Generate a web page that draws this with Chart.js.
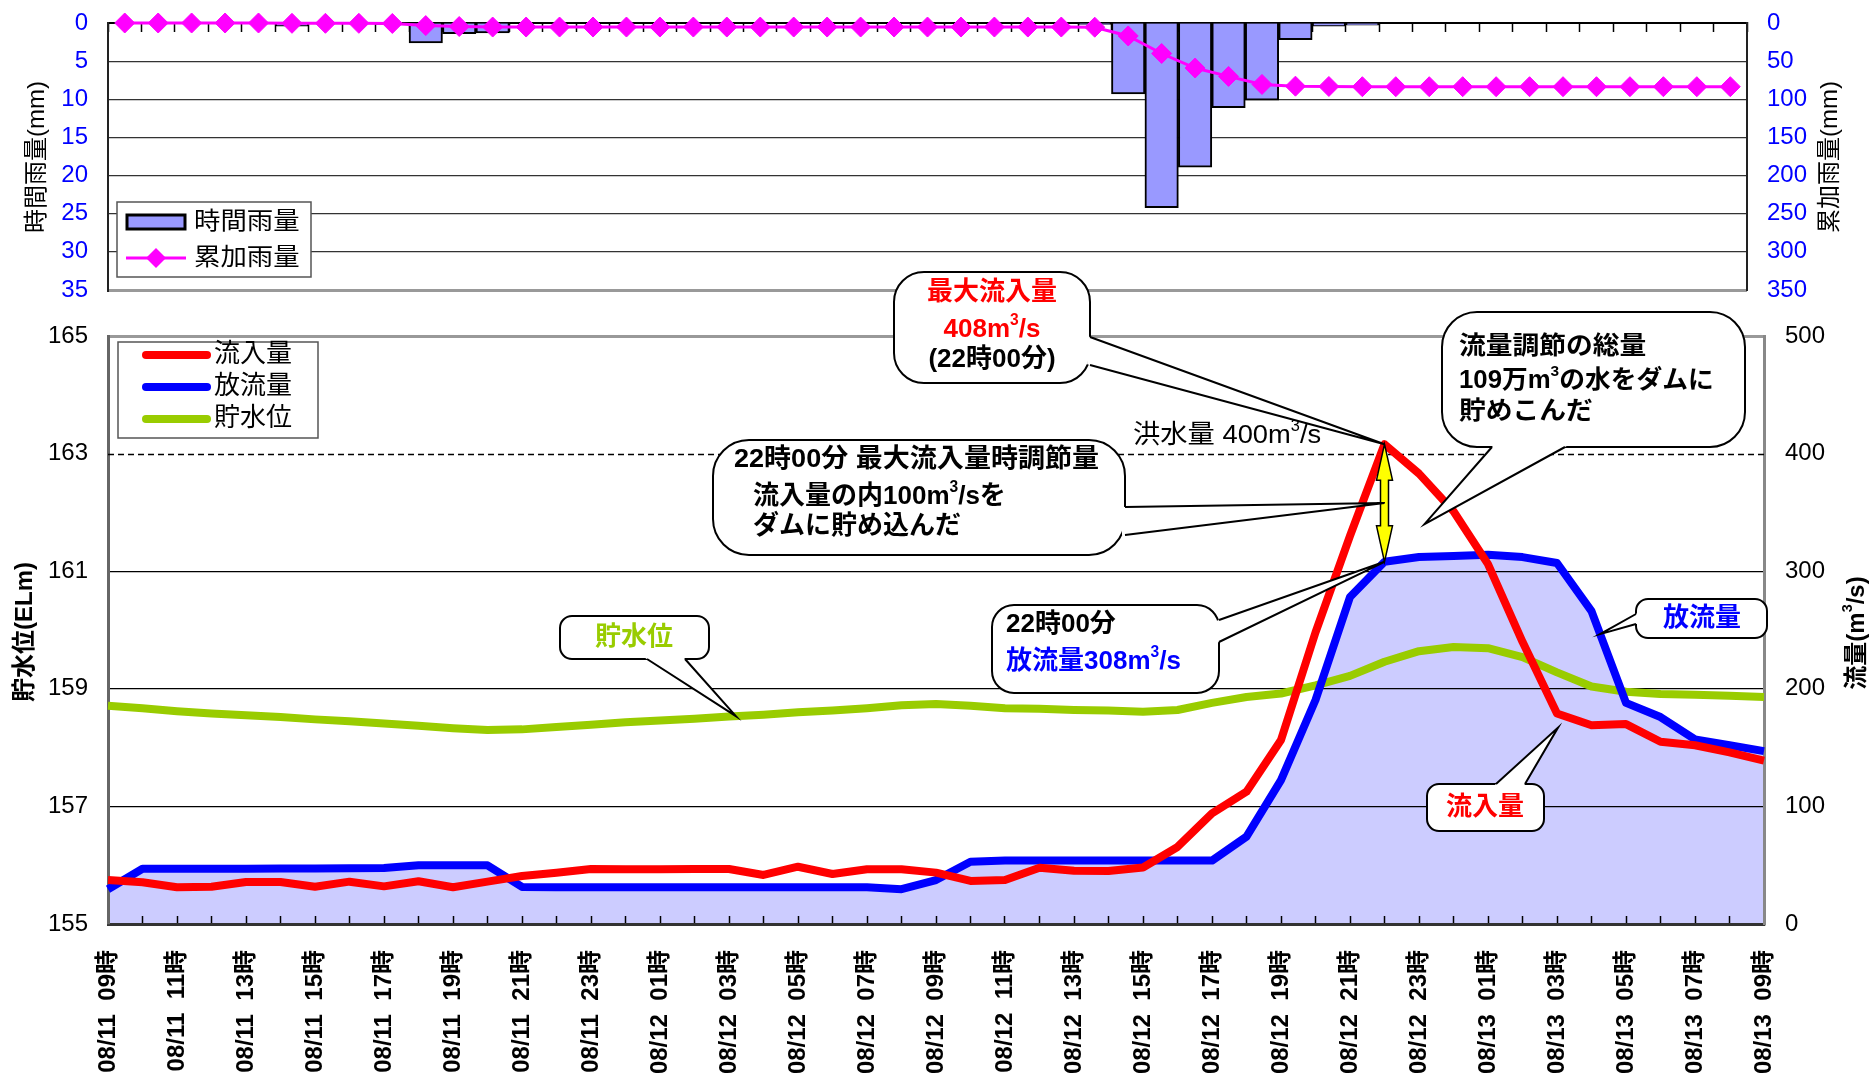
<!DOCTYPE html>
<html lang="ja">
<head>
<meta charset="utf-8">
<title>流入量・放流量・貯水位</title>
<script src="https://cdn.jsdelivr.net/npm/chart.js@4.4.0/dist/chart.umd.min.js"></script>
<style>
  html, body { margin: 0; padding: 0; background: #fff; }
  #wrap { position: relative; width: 1874px; height: 1080px; overflow: hidden; }
  canvas { position: absolute; left: 0; }
  #rain { top: 0; }
  #flow { top: 250px; }
</style>
</head>
<body>
<div id="wrap">
  <canvas id="rain" width="1874" height="310"></canvas>
  <canvas id="flow" width="1874" height="830"></canvas>
</div>
<script>
// hourly categories, 08/11 09時 .. 08/13 09時
const hours = [
  '08/11  09時', '08/11  10時', '08/11  11時', '08/11  12時', '08/11  13時', '08/11  14時', '08/11  15時',
  '08/11  16時', '08/11  17時', '08/11  18時', '08/11  19時', '08/11  20時', '08/11  21時', '08/11  22時',
  '08/11  23時', '08/12  00時', '08/12  01時', '08/12  02時', '08/12  03時', '08/12  04時', '08/12  05時',
  '08/12  06時', '08/12  07時', '08/12  08時', '08/12  09時', '08/12  10時', '08/12  11時', '08/12  12時',
  '08/12  13時', '08/12  14時', '08/12  15時', '08/12  16時', '08/12  17時', '08/12  18時', '08/12  19時',
  '08/12  20時', '08/12  21時', '08/12  22時', '08/12  23時', '08/13  00時', '08/13  01時', '08/13  02時',
  '08/13  03時', '08/13  04時', '08/13  05時', '08/13  06時', '08/13  07時', '08/13  08時', '08/13  09時'
];

// 時間雨量 (mm)
const rainHourly = [0, 0, 0, 0, 0, 0.4, 0, 0, 0.2, 2.6, 1.4, 1.3,
  0, 0, 0, 0, 0, 0, 0, 0, 0, 0, 0, 0, 0, 0, 0, 0, 0,
  0.2, 9.3, 24.2, 18.9, 11.1, 10.1, 2.2, 0.4, 0.3,
  0, 0, 0, 0, 0, 0, 0, 0, 0, 0, 0];

// 累加雨量 (mm)
const rainTotal = [0, 0, 0, 0, 0, 0.4, 0.4, 0.4, 0.6, 3.4, 4.6, 5.3,
  5.3, 5.3, 5.3, 5.3, 5.3, 5.3, 5.3, 5.3, 5.3, 5.3, 5.3, 5.3, 5.3, 5.3, 5.3, 5.3, 5.3,
  5.5, 17, 40, 59, 70, 80.5, 82.8, 83.2, 83.5,
  83.5, 83.5, 83.5, 83.5, 83.5, 83.5, 83.5, 83.5, 83.5, 83.5, 83.5];

// 流入量 (m3/s)
const inflow = [37.4, 35.5, 31.2, 31.7, 35.7, 35.7, 31.7, 36, 32, 36.3, 31.2, 36,
  40.8, 43.6, 46.8, 46.5, 46.5, 46.8, 46.8, 41.7, 48.7, 42.5, 46.5, 46.5,
  43.7, 36.6, 37.4, 47.9, 45.2, 45, 48, 65.5, 94, 112.5, 156.5, 248,
  330, 408, 383, 351, 306, 240, 179, 169, 170, 155, 152, 146, 139];

// 放流量 (m3/s)
const outflow = [29.5, 47, 47, 47, 47, 47.2, 47.2, 47.5, 47.6, 49.9, 50, 49.9,
  31.5, 31.3, 31.3, 31.3, 31.3, 31.3, 31.3, 31.3, 31.3, 31.3, 31.2, 29.6,
  37.4, 53, 53.9, 53.9, 53.9, 53.9, 53.9, 53.9, 53.9, 74.3, 122.4, 190.5,
  278, 308, 312, 313, 314, 312, 307, 266, 188, 176, 157, 152, 147];

// 貯水位 (ELm)
const level = [158.71, 158.67, 158.62, 158.58, 158.55, 158.52, 158.48, 158.45, 158.41, 158.37, 158.33, 158.30,
  158.31, 158.35, 158.39, 158.43, 158.46, 158.49, 158.53, 158.56, 158.60, 158.63, 158.67, 158.72,
  158.74, 158.71, 158.67, 158.66, 158.64, 158.63, 158.61, 158.64, 158.76, 158.86, 158.92, 159.06,
  159.22, 159.46, 159.64, 159.71, 159.69, 159.54, 159.28, 159.04, 158.95, 158.91, 158.90, 158.88, 158.86];

// axis ranges [min, max, step]
const rainAxis = [0, 35, 5];
const totalAxis = [0, 350, 50];
const levelAxis = [155, 165, 2];
const flowAxis = [0, 500, 100];

const FLOOD_Q = 400;   // 洪水量
const PEAK = 37;       // 22時 index

const FONT = "'Liberation Sans', 'Noto Sans CJK JP', sans-serif";
const fnt = (size, bold) => (bold ? 'bold ' : '') + size + 'px ' + FONT;

// parts: [text, color, isSup]
function richText(ctx, parts, x, y, opt) {
  const size = opt.size || 24, bold = !!opt.bold, sx = opt.sx || 1;
  ctx.save();
  ctx.translate(x, y);
  if (opt.rotate) ctx.rotate(opt.rotate);
  ctx.scale(sx, 1);
  ctx.textBaseline = 'middle';
  ctx.textAlign = 'left';
  let w = 0;
  parts.forEach(p => { ctx.font = fnt(p[2] ? size * 0.6 : size, bold); w += ctx.measureText(p[0]).width; });
  let cx = opt.align === 'center' ? -w / 2 : 0;
  parts.forEach(p => {
    ctx.font = fnt(p[2] ? size * 0.6 : size, bold);
    ctx.fillStyle = p[1] || '#000';
    ctx.fillText(p[0], cx, p[2] ? -size * 0.36 : 0);
    cx += ctx.measureText(p[0]).width;
  });
  ctx.restore();
}

function roundRectPath(ctx, x, y, w, h, r) {
  ctx.beginPath();
  ctx.moveTo(x + r, y);
  ctx.arcTo(x + w, y, x + w, y + h, r);
  ctx.arcTo(x + w, y + h, x, y + h, r);
  ctx.arcTo(x, y + h, x, y, r);
  ctx.arcTo(x, y, x + w, y, r);
  ctx.closePath();
}

// rounded callout with a wedge tail from base points p1,p2 to tip
function bubble(ctx, b, p1, p2, tip) {
  ctx.save();
  ctx.lineWidth = 2;
  ctx.strokeStyle = '#000';
  ctx.fillStyle = '#fff';
  roundRectPath(ctx, b[0], b[1], b[2], b[3], b[4]);
  ctx.fill();
  ctx.stroke();
  const ext = p => {
    const dx = p[0] - tip[0], dy = p[1] - tip[1], d = Math.hypot(dx, dy);
    return [p[0] + dx / d * 3, p[1] + dy / d * 3];
  };
  const q1 = ext(p1), q2 = ext(p2);
  ctx.beginPath();
  ctx.moveTo(q1[0], q1[1]); ctx.lineTo(tip[0], tip[1]); ctx.lineTo(q2[0], q2[1]);
  ctx.closePath();
  ctx.fill();
  ctx.beginPath();
  ctx.moveTo(p1[0], p1[1]); ctx.lineTo(tip[0], tip[1]); ctx.lineTo(p2[0], p2[1]);
  ctx.stroke();
  ctx.restore();
}

function valAt(arr, t) {
  const i = Math.floor(t), f = t - i;
  return arr[i] + (arr[Math.min(i + 1, arr.length - 1)] - arr[i]) * f;
}

// ---------- 雨量 chart ----------
const rainNotes = {
  id: 'rainNotes',
  afterDraw(chart) {
    const ctx = chart.ctx;
    const ds = chart.data.datasets;
    richText(ctx, [['時間雨量(mm)']], 37, 157, {size: 24, align: 'center', rotate: -Math.PI / 2});
    richText(ctx, [['累加雨量(mm)']], 1830, 157, {size: 24, align: 'center', rotate: -Math.PI / 2});

    ctx.save();
    ctx.fillStyle = '#fff';
    ctx.strokeStyle = '#555';
    ctx.lineWidth = 1.5;
    ctx.fillRect(117, 202, 194, 75);
    ctx.strokeRect(117, 202, 194, 75);
    ctx.fillStyle = ds[0].backgroundColor;
    ctx.fillRect(127, 215, 58, 14);
    ctx.strokeStyle = '#000';
    ctx.lineWidth = 3;
    ctx.strokeRect(127, 215, 58, 14);
    ctx.strokeStyle = ds[1].borderColor;
    ctx.beginPath(); ctx.moveTo(126, 258); ctx.lineTo(186, 258); ctx.stroke();
    ctx.fillStyle = ds[1].borderColor;
    ctx.beginPath();
    ctx.moveTo(156, 248); ctx.lineTo(166, 258); ctx.lineTo(156, 268); ctx.lineTo(146, 258);
    ctx.closePath(); ctx.fill();
    ctx.restore();
    richText(ctx, [[ds[0].label]], 194, 222, {size: 24, sx: 1.1});
    richText(ctx, [[ds[1].label]], 194, 258, {size: 24, sx: 1.1});
  }
};

new Chart(document.getElementById('rain'), {
  type: 'bar',
  data: {
    labels: hours,
    datasets: [{
      label: '時間雨量',
      data: rainHourly,
      backgroundColor: '#9999FF',
      borderColor: '#000',
      borderWidth: 2,
      barPercentage: 1,
      categoryPercentage: 1,
      yAxisID: 'y',
      order: 2
    }, {
      type: 'line',
      label: '累加雨量',
      data: rainTotal,
      borderColor: '#FF00FF',
      backgroundColor: '#FF00FF',
      borderWidth: 3,
      pointStyle: 'rectRot',
      pointRadius: 10,
      pointBorderWidth: 1,
      pointBorderColor: '#FF00FF',
      clip: false,
      yAxisID: 'y2',
      order: 1
    }]
  },
  options: {
    responsive: false,
    animation: false,
    layout: {padding: {top: 23, bottom: 20, left: 0, right: 0}},
    plugins: {legend: {display: false}, tooltip: {enabled: false}},
    scales: {
      x: {
        position: 'top',
        ticks: {display: false},
        grid: {drawOnChartArea: false, tickLength: -9, tickColor: '#000', tickWidth: 1.5},
        border: {color: '#000', width: 2},
        afterFit: s => { s.height = 0; }
      },
      y: {
        position: 'left',
        reverse: true,
        min: rainAxis[0], max: rainAxis[1],
        ticks: {stepSize: rainAxis[2], color: '#0000FF', padding: 20, font: {family: FONT, size: 24}},
        grid: {
          drawTicks: false,
          color: c => c.tick.value === rainAxis[1] ? '#999' : (c.tick.value === rainAxis[0] ? 'rgba(0,0,0,0)' : '#333'),
          lineWidth: c => c.tick.value === rainAxis[1] ? 3 : 1.2
        },
        border: {color: '#222', width: 2},
        afterFit: s => { s.width = 108; s.paddingTop = 0; s.paddingBottom = 0; }
      },
      y2: {
        position: 'right',
        reverse: true,
        min: totalAxis[0], max: totalAxis[1],
        ticks: {stepSize: totalAxis[2], color: '#0000FF', padding: 20, font: {family: FONT, size: 24}},
        grid: {drawOnChartArea: false, drawTicks: false},
        border: {color: '#222', width: 2},
        afterFit: s => { s.width = 127; s.paddingTop = 0; s.paddingBottom = 0; }
      }
    }
  },
  plugins: [rainNotes]
});

// ---------- 流量 chart ----------
const flowNotes = {
  id: 'flowNotes',
  beforeDatasetsDraw(chart) {
    const {ctx, chartArea: a, scales: {y2}} = chart;
    const yy = Math.round(y2.getPixelForValue(FLOOD_Q)) + 0.5;
    ctx.save();
    ctx.strokeStyle = '#000';
    ctx.lineWidth = 1.5;
    ctx.setLineDash([6, 4]);
    ctx.beginPath(); ctx.moveTo(a.left, yy); ctx.lineTo(a.right, yy); ctx.stroke();
    ctx.restore();
  },
  afterDraw(chart) {
    const {ctx, scales: {x, y, y2}} = chart;
    const ds = chart.data.datasets;
    const px = i => x.getPixelForValue(i);
    const pq = v => y2.getPixelForValue(v);
    const ph = v => y.getPixelForValue(v);

    // axis titles
    richText(ctx, [['貯水位(ELm)']], 25, 382, {size: 24, bold: true, align: 'center', rotate: -Math.PI / 2});
    richText(ctx, [['流量(m'], ['3', '#000', 1], ['/s)']], 1857, 383, {size: 24, bold: true, align: 'center', rotate: -Math.PI / 2});

    // legend
    ctx.save();
    ctx.fillStyle = '#fff';
    ctx.strokeStyle = '#555';
    ctx.lineWidth = 1.5;
    ctx.fillRect(118, 92, 200, 96);
    ctx.strokeRect(118, 92, 200, 96);
    ctx.lineCap = 'round';
    ctx.lineWidth = 8;
    ds.forEach((d, k) => {
      const ly = 105 + k * 32;
      ctx.strokeStyle = d.borderColor;
      ctx.beginPath(); ctx.moveTo(146, ly); ctx.lineTo(207, ly); ctx.stroke();
    });
    ctx.restore();
    ds.forEach((d, k) => richText(ctx, [[d.label]], 214, 105 + k * 32, {size: 26}));

    // 洪水量 label
    richText(ctx, [['洪水量 400m'], ['3', '#000', 1], ['/s']], 1133, pq(FLOOD_Q) - 18, {size: 26, sx: 1.05});

    // yellow double arrow at the peak
    const ax = px(PEAK), yt = pq(inflow[PEAK]), yb = pq(outflow[PEAK]);
    const hl = 36, hw = 8, sw = 4;
    ctx.save();
    ctx.fillStyle = '#FFFF00';
    ctx.strokeStyle = '#000';
    ctx.lineWidth = 1.5;
    ctx.beginPath();
    ctx.moveTo(ax, yt);
    ctx.lineTo(ax + hw, yt + hl); ctx.lineTo(ax + sw, yt + hl);
    ctx.lineTo(ax + sw, yb - hl); ctx.lineTo(ax + hw, yb - hl);
    ctx.lineTo(ax, yb);
    ctx.lineTo(ax - hw, yb - hl); ctx.lineTo(ax - sw, yb - hl);
    ctx.lineTo(ax - sw, yt + hl); ctx.lineTo(ax - hw, yt + hl);
    ctx.closePath();
    ctx.fill(); ctx.stroke();
    ctx.restore();

    const RED = ds[0].borderColor, BLUE = ds[1].borderColor, GREEN = ds[2].borderColor;

    // 最大流入量
    bubble(ctx, [894, 22, 196, 111, 30], [1090, 87], [1090, 115], [px(PEAK), pq(inflow[PEAK])]);
    richText(ctx, [['最大流入量', RED]], 992, 43, {size: 26, bold: true, align: 'center'});
    richText(ctx, [['408m', RED], ['3', RED, 1], ['/s', RED]], 992, 80, {size: 26, bold: true, align: 'center'});
    richText(ctx, [['(22時00分)']], 992, 110, {size: 26, bold: true, align: 'center'});

    // 最大流入量時調節量
    bubble(ctx, [713, 190, 412, 115, 36], [1125, 257], [1125, 285],
      [px(PEAK), pq((inflow[PEAK] + outflow[PEAK]) / 2)]);
    richText(ctx, [['22時00分 最大流入量時調節量']], 734, 210, {size: 26, bold: true, sx: 1.04});
    richText(ctx, [['流入量の内100m'], ['3', '#000', 1], ['/sを']], 753, 247, {size: 26, bold: true});
    richText(ctx, [['ダムに貯め込んだ']], 753, 277, {size: 26, bold: true});

    // 放流量308
    bubble(ctx, [992, 355, 227, 88, 22], [1219, 370], [1219, 392], [px(PEAK), pq(outflow[PEAK])]);
    richText(ctx, [['22時00分']], 1006, 375, {size: 26, bold: true});
    richText(ctx, [['放流量308m', BLUE], ['3', BLUE, 1], ['/s', BLUE]], 1006, 412, {size: 26, bold: true});

    // 流量調節の総量
    bubble(ctx, [1442, 62, 303, 135, 35], [1492, 197], [1565, 197], [px(38.16), pq(340)]);
    richText(ctx, [['流量調節の総量']], 1459, 97, {size: 25, bold: true, sx: 1.07});
    richText(ctx, [['109万m'], ['3', '#000', 1], ['の水をダムに']], 1459, 131, {size: 25, bold: true, sx: 1.03});
    richText(ctx, [['貯めこんだ']], 1459, 162, {size: 25, bold: true, sx: 1.07});

    // series labels
    bubble(ctx, [560, 366, 149, 43, 12], [647, 409], [685, 409], [px(18.2), ph(valAt(level, 18.2))]);
    richText(ctx, [['貯水位', GREEN]], 634, 388, {size: 26, bold: true, align: 'center'});

    bubble(ctx, [1636, 349, 131, 39, 12], [1636, 364], [1636, 374], [px(43.25), pq(valAt(outflow, 43.25))]);
    richText(ctx, [['放流量', BLUE]], 1702, 369, {size: 26, bold: true, align: 'center'});

    bubble(ctx, [1427, 534, 117, 47, 12], [1496, 534], [1525, 534], [px(42.03), pq(167)]);
    richText(ctx, [['流入量', RED]], 1485, 558, {size: 26, bold: true, align: 'center'});
  }
};

new Chart(document.getElementById('flow'), {
  type: 'line',
  data: {
    labels: hours,
    datasets: [{
      label: '流入量',
      data: inflow,
      borderColor: '#FF0000',
      borderWidth: 8,
      pointRadius: 0,
      borderJoinStyle: 'round',
      yAxisID: 'y2'
    }, {
      label: '放流量',
      data: outflow,
      borderColor: '#0000FF',
      backgroundColor: '#CCCCFF',
      fill: 'origin',
      borderWidth: 8,
      pointRadius: 0,
      borderJoinStyle: 'round',
      yAxisID: 'y2'
    }, {
      label: '貯水位',
      data: level,
      borderColor: '#99CC00',
      borderWidth: 8,
      pointRadius: 0,
      borderJoinStyle: 'round',
      yAxisID: 'y'
    }]
  },
  options: {
    responsive: false,
    animation: false,
    layout: {padding: {top: 86, bottom: 0, left: 0, right: 0}},
    plugins: {legend: {display: false}, tooltip: {enabled: false}, filler: {drawTime: 'beforeDraw'}},
    scales: {
      x: {
        ticks: {
          autoSkip: false, maxRotation: 90, minRotation: 90, padding: 34,
          color: '#000', font: {family: FONT, size: 24, weight: 'bold'},
          callback: (v, i) => (i % 2 === 0 ? hours[i] : '')
        },
        grid: {drawOnChartArea: false, tickLength: -8, tickColor: '#000', tickWidth: 1.5},
        border: {color: '#333', width: 3},
        afterFit: s => { s.height = 156; }
      },
      y: {
        position: 'left',
        min: levelAxis[0], max: levelAxis[1],
        ticks: {stepSize: levelAxis[2], color: '#000', padding: 20, font: {family: FONT, size: 24}},
        grid: {
          drawTicks: false,
          color: c => c.tick.value === levelAxis[1] ? '#999' :
            ((c.tick.value === levelAxis[0] || c.tick.value === 163) ? 'rgba(0,0,0,0)' : '#000'),
          lineWidth: c => c.tick.value === levelAxis[1] ? 3 : 1.2
        },
        border: {color: '#666', width: 3},
        afterFit: s => { s.width = 108; }
      },
      y2: {
        position: 'right',
        min: flowAxis[0], max: flowAxis[1],
        ticks: {stepSize: flowAxis[2], color: '#000', padding: 21, font: {family: FONT, size: 24}},
        grid: {drawOnChartArea: false, drawTicks: false},
        border: {color: '#888', width: 3},
        afterFit: s => { s.width = 110; }
      }
    }
  },
  plugins: [flowNotes]
});
</script>
</body>
</html>
